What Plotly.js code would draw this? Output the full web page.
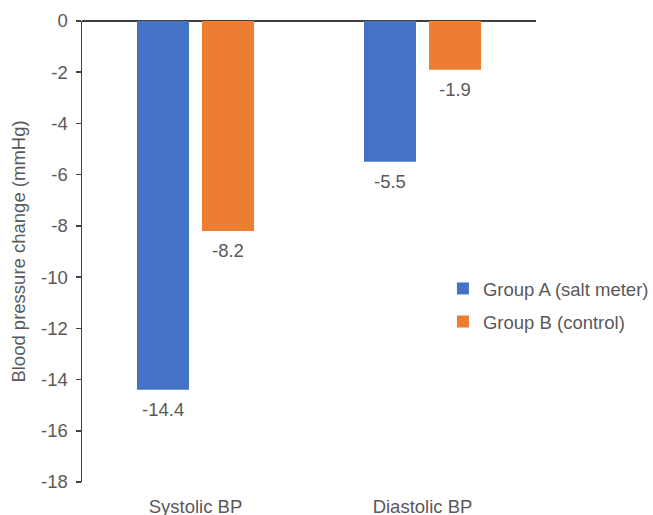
<!DOCTYPE html>
<html>
<head>
<meta charset="utf-8">
<script src="https://cdn.plot.ly/plotly-3.0.1.min.js"></script>
<style>html,body{margin:0;padding:0;background:#fff;}#chart{width:653px;height:515px;}</style>
</head>
<body>
<div id="chart"></div>
<script>
const categories = ["Systolic BP", "Diastolic BP"];
const groupA = [-14.4, -5.5];
const groupB = [-8.2, -1.9];
const seriesNames = ["Group A (salt meter)", "Group B (control)"];
const seriesColors = ["#4472C4", "#ED7D31"];
const yTicks = [0, -2, -4, -6, -8, -10, -12, -14, -16, -18];

const textFont = {family: "Liberation Sans, Arial, sans-serif", size: 18.5, color: "#595959"};

const series = [groupA, groupB];
const traces = series.map((vals, i) => ({
  type: "bar", name: seriesNames[i], x: categories, y: vals,
  marker: {color: seriesColors[i]}, legendgroup: "g" + i, hoverinfo: "none"
}));

// value labels placed below each bar end
const slotShift = 32.5;
const annotations = [];
series.forEach((vals, i) => {
  vals.forEach((v, j) => {
    annotations.push({x: categories[j], y: v, xref: "x", yref: "y", text: v.toFixed(1),
      showarrow: false, yanchor: "top", xanchor: "center", yshift: -7,
      xshift: (i === 0 ? -1 : 1) * slotShift, font: textFont});
  });
});

const layout = {
  width: 653, height: 515,
  margin: {l: 82, r: 117, t: 21, b: 33, autoexpand: false},
  paper_bgcolor: "#fff", plot_bgcolor: "#fff",
  font: textFont,
  barmode: "group", bargap: 0.427, bargroupgap: 0.2,
  showlegend: true,
  legend: {x: 0.795, xanchor: "left", y: 0.383, yanchor: "middle", font: textFont, tracegroupgap: 6, bgcolor: "rgba(0,0,0,0)"},
  annotations: annotations,
  xaxis: {type: "category", showline: false, showgrid: false, zeroline: false, ticks: "", ticklabelstandoff: 11, tickfont: textFont},
  yaxis: {range: [-18, 0], tickvals: yTicks, ticktext: yTicks.map(String), showgrid: false,
    showline: true, linecolor: "#404040", linewidth: 1.5, ticks: "outside", ticklen: 5, tickcolor: "#404040", tickwidth: 1.5,
    zeroline: true, zerolinecolor: "#404040", zerolinewidth: 1.5, tickfont: textFont, ticklabelstandoff: 4,
    title: {text: "Blood pressure change (mmHg)", font: textFont, standoff: 10}}
};

Plotly.newPlot("chart", traces, layout, {staticPlot: true});
</script>
</body>
</html>
